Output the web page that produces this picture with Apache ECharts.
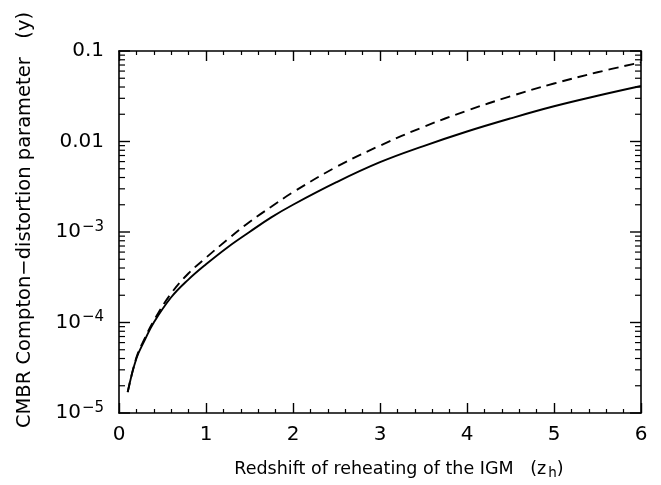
<!DOCTYPE html>
<html>
<head>
<meta charset="utf-8">
<script src="https://cdn.jsdelivr.net/npm/echarts@6/dist/echarts.min.js"></script>
<style>
html,body{margin:0;padding:0;background:#fff;}
#chart{width:661px;height:485px;}
</style>
</head>
<body>
<div id="chart"></div>
<script>
// redshift of reheating (x) and y parameter, solid and dashed curves
var zSolid = [0.1, 0.2, 0.3, 0.4, 0.6, 0.8, 1.0, 1.25, 1.5, 1.75, 2.0, 2.5, 3.0, 3.5, 4.0, 4.5, 5.0, 5.5, 6.0];
var ySolid = [1.7e-5, 4.0e-5, 6.5e-5, 1.0e-4, 1.9e-4, 3.0e-4, 4.4e-4, 6.8e-4, 1.0e-3, 1.45e-3, 2.0e-3, 3.55e-3, 5.9e-3, 8.9e-3, 0.0129, 0.018, 0.0245, 0.032, 0.041];
var zDashed = [0.1, 0.2, 0.3, 0.4, 0.6, 0.8, 1.0, 1.25, 1.5, 1.75, 2.0, 2.5, 3.0, 3.5, 4.0, 4.5, 5.0, 5.5, 6.0];
var yDashed = [1.7e-5, 4.1e-5, 6.8e-5, 1.05e-4, 2.1e-4, 3.5e-4, 5.2e-4, 8.3e-4, 1.29e-3, 1.9e-3, 2.75e-3, 5.25e-3, 9.0e-3, 0.0145, 0.0219, 0.0316, 0.0437, 0.0582, 0.075];
// y axis labels per decade
var yTickLabels = {'0.1': '0.1', '0.01': '0.01', '0.001': '{b|10}{s|−3}', '0.0001': '{b|10}{s|−4}', '0.00001': '{b|10}{s|−5}'};
// log axis ticks: decades (major) and 2..9 per decade (minor)
var decades = [1e-5, 1e-4, 1e-3, 1e-2, 1e-1];
var minorMult = [2, 3, 4, 5, 6, 7, 8, 9];

var yTicks = [];
for (var d = 0; d < decades.length; d++) {
  yTicks.push([0, decades[d], 11]);
  if (d == decades.length - 1) break;
  for (var m = 0; m < minorMult.length; m++) {
    yTicks.push([0, +(decades[d] * minorMult[m]).toPrecision(3), 6]);
  }
}
function pairs(xs, ys) {
  return xs.map(function (x, i) { return [x, ys[i]]; });
}

var FONT = 'DejaVu Sans';
var chart = echarts.init(document.getElementById('chart'));

function xAxis(pos, label) {
  var a = {
    type: 'value', position: pos, min: 0, max: 6, interval: 1,
    axisLine: {show: true, onZero: false, lineStyle: {color: '#000', width: 1.6}},
    axisTick: {show: true, inside: true, length: 10, lineStyle: {color: '#000', width: 1.4}},
    minorTick: {show: true, splitNumber: 5, length: 4, lineStyle: {color: '#000', width: 1.2}},
    splitLine: {show: false},
    axisLabel: {show: label, color: '#000', fontFamily: FONT, fontSize: 20, margin: 12}
  };
  if (label) {
    a.name = 'Redshift of reheating of the IGM   (z{h|h})';
    a.nameLocation = 'middle';
    a.nameGap = 46;
    a.nameTextStyle = {color: '#000', fontFamily: FONT, fontSize: 17.5, padding: [0, 0, 0, 38],
      rich: {h: {fontFamily: FONT, fontSize: 13.5, color: '#000', padding: [7, 0, 0, 2]}}};
  }
  return a;
}
function yAxis(pos, label) {
  var a = {
    type: 'log', logBase: 10, min: 1e-5, max: 0.1, position: pos,
    axisLine: {show: true, onZero: false, lineStyle: {color: '#000', width: 1.6}},
    axisTick: {show: false},
    splitLine: {show: false},
    axisLabel: {
      show: label, color: '#000', fontFamily: FONT, fontSize: 20, margin: 15,
      formatter: function (v) {
        var k = String(+v.toPrecision(1));
        return yTickLabels[k] !== undefined ? yTickLabels[k] : '';
      },
      rich: {
        b: {fontFamily: FONT, fontSize: 20, color: '#000'},
        s: {fontFamily: FONT, fontSize: 15, color: '#000', verticalAlign: 'top', padding: [0, 0, 10, 1]}
      }
    }
  };
  if (label) {
    a.name = 'CMBR Compton−distortion parameter   (y)';
    a.nameLocation = 'middle';
    a.nameGap = 84;
    a.nameRotate = 90;
    a.nameTextStyle = {color: '#000', fontFamily: FONT, fontSize: 19.5, padding: [0, 0, 0, 24]};
  }
  return a;
}

var option = {
  animation: false,
  backgroundColor: '#fff',
  grid: {left: 119, right: 20, top: 51, bottom: 70},
  xAxis: [xAxis('bottom', true), xAxis('top', false)],
  yAxis: [yAxis('left', true), yAxis('right', false)],
  series: [
    {
      type: 'line', data: pairs(zSolid, ySolid), smooth: 0.4, showSymbol: false,
      lineStyle: {color: '#000', width: 1.9}, silent: true
    },
    {
      type: 'line', data: pairs(zDashed, yDashed), smooth: 0.4, showSymbol: false,
      lineStyle: {color: '#000', width: 1.9, type: [10, 6]}, silent: true
    },
    {
      // inward ticks of the log axes, placed through the axis scale
      type: 'custom', silent: true, data: yTicks, clip: false,
      renderItem: function (params, api) {
        var v = api.value(1);
        var len = api.value(2);
        var l = api.coord([0, v]);
        var r = api.coord([6, v]);
        var st = {stroke: '#000', lineWidth: len > 8 ? 1.4 : 1.2};
        return {
          type: 'group',
          children: [
            {type: 'line', shape: {x1: l[0], y1: l[1], x2: l[0] + len, y2: l[1]}, style: st},
            {type: 'line', shape: {x1: r[0] - len, y1: r[1], x2: r[0], y2: r[1]}, style: st}
          ]
        };
      }
    }
  ]
};
chart.setOption(option);
</script>
</body>
</html>
